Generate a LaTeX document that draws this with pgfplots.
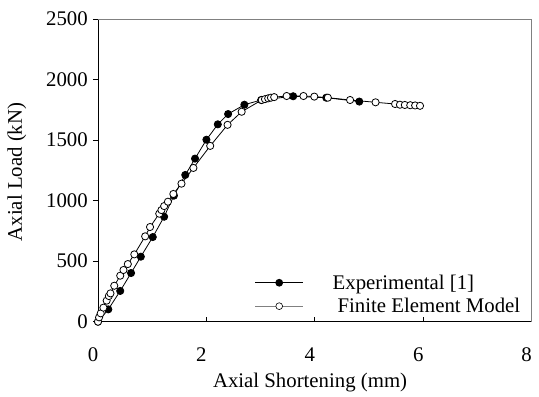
\documentclass[border=0pt]{standalone}
\usepackage{pgfplots}
\pgfplotsset{compat=1.18}
\usepackage{fontspec}
\setmainfont{Liberation Serif}
\begin{document}
\begin{tikzpicture}
\begin{axis}[
  at={(0,0)}, anchor=south west,
  scale only axis,
  width=433.7bp, height=302.7bp,
  xmin=0, xmax=8, ymin=0, ymax=2500,
  xtick={0,2,4,6,8}, ytick={0,500,1000,1500,2000,2500},
  axis x line*=bottom, axis y line*=left,
  axis line style={black, line width=0.9bp, -},
  tick align=inside,
  major tick length=5bp,
  xtick style={black, line width=0.9bp},
  ytick style={black, line width=0.9bp, xshift=-5bp},
  font=\fontsize{20.8bp}{25bp}\selectfont,
  /pgf/number format/assume math mode=true,
  /pgf/number format/1000 sep={},
  xticklabel style={anchor=center, yshift=-33.3bp, xshift=-5bp},
  yticklabel style={anchor=east, inner sep=0pt, xshift=-10bp},
  xlabel={Axial Shortening (mm)},
  ylabel={Axial Load (kN)},
  xlabel style={at={(axis description cs:0.489,-0.2025)}, anchor=center},
  ylabel style={at={(axis description cs:-0.187,0.4946)}, anchor=center, rotate=0},
  legend style={draw=none, fill=none, at={(axis description cs:0.361,0.09)}, anchor=west,
    row sep=3.5bp, inner sep=0pt, cells={anchor=west},
    font=\fontsize{20.8bp}{23bp}\selectfont},
  legend image code/.code={%
    \draw[mark repeat=2,mark phase=2,#1] plot coordinates {(0bp,0bp) (24bp,0bp) (48bp,0bp)};},
  after end axis/.code={%
    \draw[gray, line width=0.9bp] (rel axis cs:0,1) -- (rel axis cs:1,1) -- (rel axis cs:1,0);},
]
\addplot[black, line width=0.8bp, mark=*, mark size=3.6bp, mark options={fill=black}, forget plot] coordinates {
(0,0) (0.19,102) (0.41,254) (0.61,402) (0.79,537) (1.01,699) (1.22,867) (1.40,1041)
(1.61,1212) (1.79,1347) (2.00,1503) (2.21,1630) (2.40,1715) (2.70,1792) (3.01,1831)
(3.60,1862) (4.21,1850) (4.82,1818)
};
\addplot[black, line width=0.8bp, mark=*, mark size=3.6bp, mark options={fill=white}, forget plot] coordinates {
(0,0) (0.02,36) (0.05,69) (0.10,116) (0.16,174) (0.20,212) (0.23,234) (0.30,297)
(0.41,380) (0.47,427) (0.55,476) (0.67,556) (0.87,705) (0.96,782) (1.13,892) (1.17,922)
(1.22,955) (1.29,991) (1.39,1055) (1.54,1140) (1.76,1270) (2.07,1452) (2.39,1626)
(2.65,1734) (3.02,1831) (3.08,1838) (3.14,1845) (3.19,1850) (3.25,1855) (3.48,1864)
(3.79,1864) (3.99,1859) (4.24,1850) (4.65,1831) (5.12,1812) (5.48,1798) (5.57,1792)
(5.66,1790) (5.76,1788) (5.85,1786) (5.94,1783)
};
\addlegendimage{black, line width=0.9bp, mark=*, mark size=3.4bp, mark options={fill=black}}
\addlegendentry{\hspace{27bp}Experimental [1]}
\addlegendimage{gray, line width=0.9bp, mark=*, mark size=3.4bp, mark options={fill=white, draw=black, line width=0.6bp}}
\addlegendentry{\hspace{32bp}Finite Element Model}
\end{axis}
\pgfresetboundingbox
\path[use as bounding box] (-98bp,-75.3bp) rectangle (441bp,321.7bp);
\end{tikzpicture}
\end{document}
